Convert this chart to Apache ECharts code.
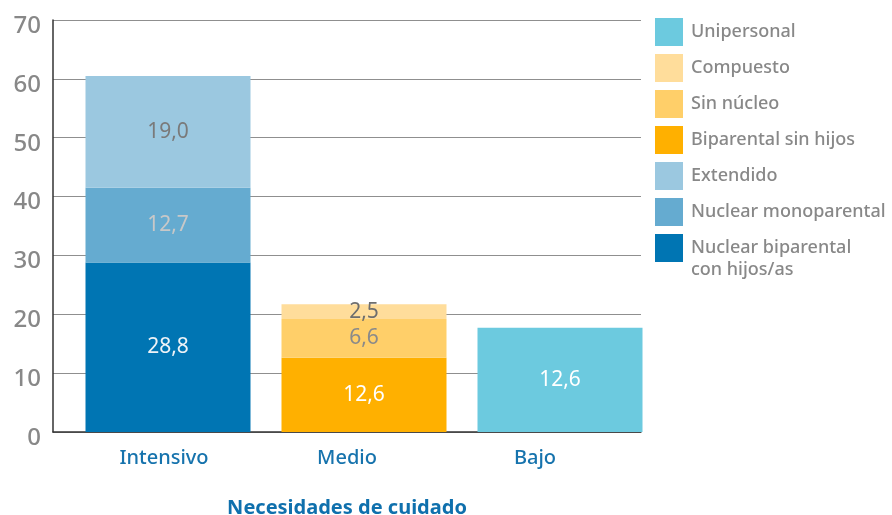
<!DOCTYPE html>
<html style="height:100%;">
<head>
	<meta charset="utf-8" />
	<title>Necesidades de cuidado</title>
	<script type="text/javascript" src="https://cdn.jsdelivr.net/npm/echarts@6/dist/echarts.min.js"></script>
</head>
<body style="margin:0;padding:0;height:100%;background:#fff;">
	<div id="chart" style="width:892px;height:515px;"></div>
	<script type="text/javascript">
		// categorias y valores (%)
		const categorias = ['Intensivo', 'Medio', 'Bajo'];
		const nuclearBiparental = [28.8, null, null];
		const nuclearMonoparental = [12.7, null, null];
		const extendido = [19.0, null, null];
		const biparentalSinHijos = [null, 12.6, null];
		const sinNucleo = [null, 6.6, null];
		const compuesto = [null, 2.5, null];
		// la barra de Bajo llega a ~17,7 pero la etiqueta dice 12,6
		const unipersonal = [null, null, 17.7];
		const unipersonalEtiquetas = ['', '', '12,6'];
		const ejeY = { min: 0, max: 70, interval: 10 };

		const font = '"Noto Sans", sans-serif';
		const chart = echarts.init(document.getElementById('chart'));

		function fmt(p) {
			return p.value == null ? '' : p.value.toFixed(1).replace('.', ',');
		}

		function serie(nombre, datos, color, colorTexto, formatter) {
			return {
				name: nombre,
				type: 'bar',
				stack: 'total',
				xAxisIndex: 1,
				yAxisIndex: 1,
				barWidth: 165,
				data: datos,
				itemStyle: { color: color },
				label: {
					show: true,
					position: 'inside',
					color: colorTexto,
					fontFamily: font,
					fontSize: 21,
					formatter: formatter || fmt
				}
			};
		}

		// pequeño ajuste horizontal de las etiquetas del eje x
		const ajusteEtiquetas = [[0, 0, 0, 26], [0, 0, 0, 0], [0, 16, 0, 0]];

		const option = {
			animation: false,
			textStyle: { fontFamily: font },
			grid: [
				{ left: 53, top: 20, width: 588, height: 412, outerBoundsMode: 'none' },
				{ left: 70, top: 20, width: 588, height: 412, outerBoundsMode: 'none' }
			],
			legend: {
				orient: 'vertical',
				left: 655,
				top: 18,
				padding: 0,
				itemWidth: 28,
				itemHeight: 28,
				itemGap: 8,
				icon: 'rect',
				selectedMode: false,
				textStyle: { color: '#888', fontSize: 18, fontFamily: font, fontWeight: 500, padding: [0, 0, 0, 3] },
				data: [
					'Unipersonal',
					'Compuesto',
					'Sin núcleo',
					'Biparental sin hijos',
					'Extendido',
					'Nuclear monoparental',
					'Nuclear biparental'
				]
			},
			graphic: [{
				type: 'text',
				left: 691,
				top: 261,
				style: { text: 'con hijos/as', fill: '#888', fontSize: 18, fontFamily: font, fontWeight: 500 }
			}],
			xAxis: [
				{
					type: 'category',
					gridIndex: 0,
					data: categorias.map(function (c, i) {
						return { value: c, textStyle: { padding: ajusteEtiquetas[i] } };
					}),
					axisTick: { show: false },
					axisLine: { lineStyle: { color: '#333', width: 1.5 } },
					axisLabel: { color: '#1673ad', fontSize: 20, fontWeight: 500, margin: 16, fontFamily: font },
					name: 'Necesidades de cuidado',
					nameLocation: 'middle',
					nameGap: 66,
					nameTextStyle: { color: '#0f70ad', fontSize: 20, fontWeight: 'bold', fontFamily: font }
				},
				{
					type: 'category',
					gridIndex: 1,
					data: categorias,
					show: false
				}
			],
			yAxis: [
				{
					type: 'value',
					gridIndex: 0,
					min: ejeY.min,
					max: ejeY.max,
					interval: ejeY.interval,
					axisLine: { show: true, lineStyle: { color: '#333', width: 1.5 } },
					axisTick: { show: false },
					splitLine: { lineStyle: { color: '#8f8f8f', width: 1 } },
					axisLabel: {
						color: '#888', fontSize: 24, fontWeight: 500, margin: 12, fontFamily: font,
						verticalAlign: 'top', lineHeight: 12
					}
				},
				{
					type: 'value',
					gridIndex: 1,
					min: ejeY.min,
					max: ejeY.max,
					interval: ejeY.interval,
					show: false,
					splitLine: { show: false }
				}
			],
			series: [
				serie('Nuclear biparental', nuclearBiparental, '#0075b3', '#eef3f7'),
				serie('Nuclear monoparental', nuclearMonoparental, '#65abd0', '#c8c8c8'),
				serie('Extendido', extendido, '#9bc8e0', '#7a7a7a'),
				serie('Biparental sin hijos', biparentalSinHijos, '#ffb000', '#ffffff'),
				serie('Sin núcleo', sinNucleo, '#ffcf69', '#8a8a8a'),
				serie('Compuesto', compuesto, '#ffdd9b', '#6e6e6e'),
				serie('Unipersonal', unipersonal, '#6ccadf', '#ffffff', function (p) {
					return unipersonalEtiquetas[p.dataIndex];
				})
			]
		};
		chart.setOption(option);
	</script>
</body>
</html>
